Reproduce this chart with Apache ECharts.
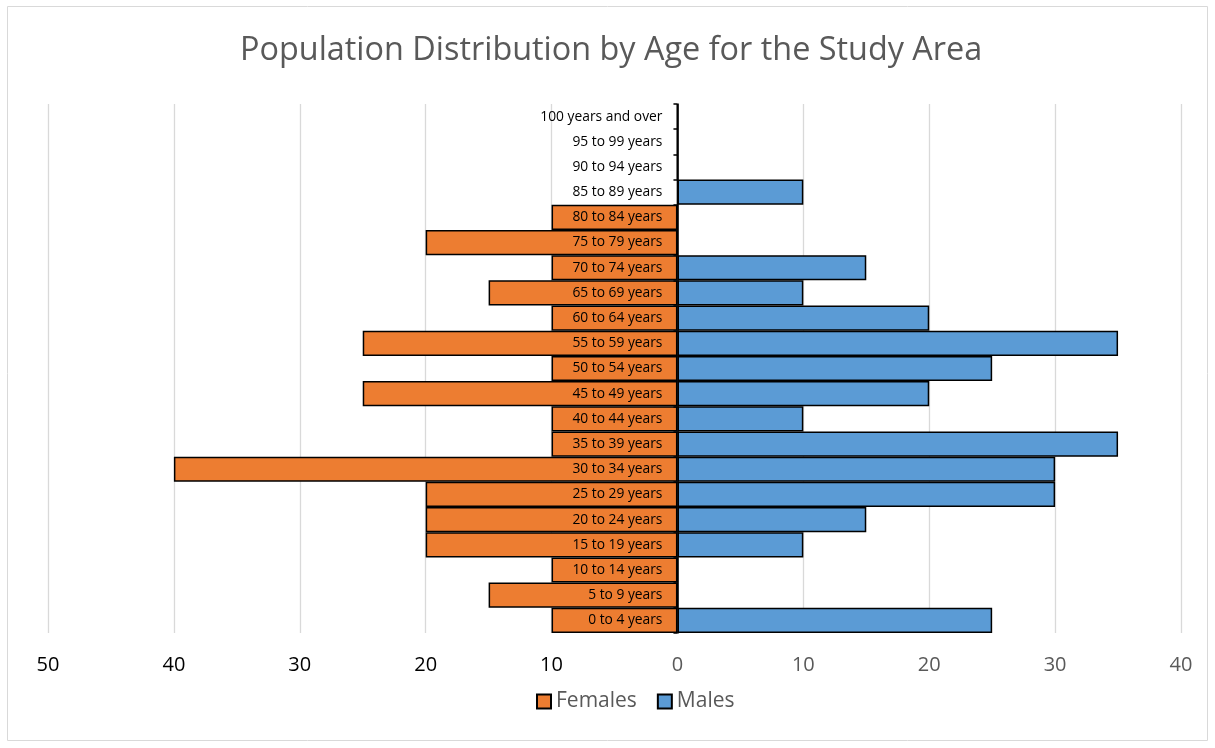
<!DOCTYPE html>
<html>
<head>
<meta charset="utf-8">
<script src="https://cdn.jsdelivr.net/npm/echarts@6/dist/echarts.min.js"></script>
<style>
  html, body { margin: 0; padding: 0; background: #fff; }
  #chart { width: 1215px; height: 748px; }
</style>
</head>
<body>
<div id="chart"></div>
<script>
var ageGroups = [
  '0 to 4 years', '5 to 9 years', '10 to 14 years', '15 to 19 years',
  '20 to 24 years', '25 to 29 years', '30 to 34 years', '35 to 39 years',
  '40 to 44 years', '45 to 49 years', '50 to 54 years', '55 to 59 years',
  '60 to 64 years', '65 to 69 years', '70 to 74 years', '75 to 79 years',
  '80 to 84 years', '85 to 89 years', '90 to 94 years', '95 to 99 years',
  '100 years and over'
]
// females are drawn to the left, so they are kept negative
var females = [-10, -15, -10, -20, -20, -20, -40, -10, -10, -25, -10, -25, -10, -15, -10, -20, -10, 0, 0, 0, 0]
var males = [25, 0, 0, 10, 15, 30, 30, 35, 10, 20, 25, 35, 20, 10, 15, 0, 0, 10, 0, 0, 0]

var font = '"Open Sans", sans-serif'
var gridLeft = 48
var gridRight = 34
var xMin = -50
var xMax = 40
// the category axis sits on the zero of the value axis, labels included
var plotWidth = 1215 - gridLeft - gridRight
var zeroShift = plotWidth * (0 - xMin) / (xMax - xMin)

var myChart = echarts.init(document.getElementById('chart'))

var option = {
  textStyle: { fontFamily: font },
  title: {
    text: 'Population Distribution by Age for the Study Area',
    left: 235,
    top: 30,
    textStyle: { fontFamily: font, fontSize: 32.4, fontWeight: 'normal', color: '#595959' }
  },
  graphic: [
    {
      type: 'rect',
      shape: { x: 7.5, y: 6.5, width: 1200, height: 734 },
      style: { fill: 'none', stroke: '#d9d9d9', lineWidth: 1 },
      silent: true
    }
  ],
  legend: {
    bottom: 31,
    left: 531,
    icon: 'rect',
    itemWidth: 14,
    itemHeight: 14,
    itemGap: 20,
    textStyle: { fontFamily: font, fontSize: 21, color: '#595959' },
    data: ['Females', 'Males']
  },
  grid: { left: gridLeft, right: gridRight, top: 104, bottom: 115, outerBoundsMode: 'none', containLabel: false },
  xAxis: {
    type: 'value',
    min: xMin,
    max: xMax,
    interval: 10,
    axisLine: { show: false },
    axisTick: { show: false },
    splitLine: { lineStyle: { color: '#d9d9d9', width: 1.3 } },
    axisLabel: {
      margin: 22,
      formatter: function (v) {
        return v < 0 ? '{neg|' + Math.abs(v) + '}' : '{pos|' + v + '}'
      },
      rich: {
        neg: { fontFamily: font, fontSize: 20, color: '#000' },
        pos: { fontFamily: font, fontSize: 20, color: '#595959' }
      }
    }
  },
  yAxis: {
    type: 'category',
    data: ageGroups,
    z: 10,
    offset: -zeroShift,
    axisLine: { onZero: false, lineStyle: { color: '#000', width: 1.5 } },
    axisTick: { show: true, length: 4, inside: false, lineStyle: { color: '#000', width: 1.5 } },
    axisLabel: { interval: 0, margin: 15, fontSize: 13.8, color: '#000', fontFamily: font },
    splitLine: { show: false }
  },
  series: [
    {
      name: 'Females',
      type: 'bar',
      data: females,
      barCategoryGap: '0%',
      barGap: '-100%',
      itemStyle: { color: '#ED7D31', borderColor: '#000', borderWidth: 1.5 }
    },
    {
      name: 'Males',
      type: 'bar',
      data: males,
      barCategoryGap: '0%',
      barGap: '-100%',
      itemStyle: { color: '#5B9BD5', borderColor: '#000', borderWidth: 1.5 }
    }
  ]
}
option && myChart.setOption(option)
</script>
</body>
</html>
